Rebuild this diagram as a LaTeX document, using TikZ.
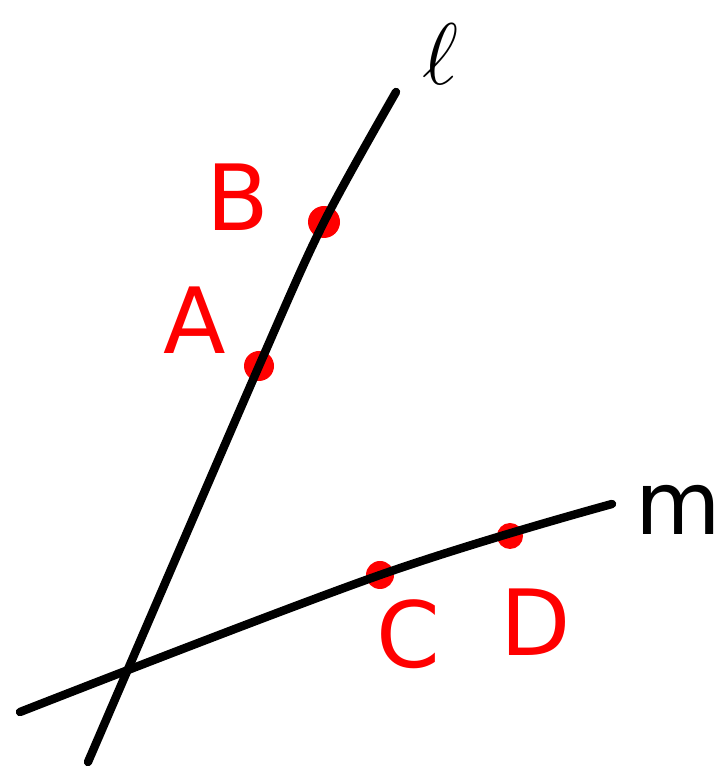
\documentclass[tikz,border=0pt]{standalone}
\usepackage{fontspec}
\setmainfont{DejaVu Sans}
\usetikzlibrary{positioning}
\definecolor{penred}{HTML}{FF0000}

\begin{document}
\begin{tikzpicture}[x=1cm,y=1cm,
  stroke/.style={line width=2.4pt, draw=black, line cap=round, line join=round},
  pt/.style={circle, fill=penred, inner sep=0pt},
  ptlabel/.style={text=penred, font=\fontsize{26}{28}\selectfont},
  linelabel/.style={text=black, font=\fontsize{25}{27}\selectfont}]

  \useasboundingbox (0,0) rectangle (7.25,7.66);

  % line l
  \coordinate (lbot) at (0.88,0.04);
  \coordinate (ltop) at (3.96,6.74);
  % line m
  \coordinate (mleft) at (0.20,0.54);
  \coordinate (mright) at (6.12,2.62);

  \node[pt, minimum size=3.2mm] (B) at (3.24,5.44) {};
  \node[pt, minimum size=3.0mm] (A) at (2.59,4.00) {};
  \node[pt, minimum size=2.8mm] (C) at (3.80,1.91) {};
  \node[pt, minimum size=2.6mm] (D) at (5.10,2.30) {};

  \draw[stroke] plot[smooth, tension=0.5] coordinates {(lbot) (A.center) (B.center) (ltop)};
  \draw[stroke] plot[smooth, tension=0.6] coordinates {(mleft) (C.center) (mright)};

  \node[ptlabel] (Blab) at (2.38,5.69) {B};
  \node[ptlabel] (Alab) at (1.95,4.46) {A};
  \node[ptlabel] (Clab) at (4.08,1.32) {C};
  \node[ptlabel] (Dlab) at (5.36,1.44) {D};

  \node[linelabel, font=\fontsize{46}{48}\selectfont] (llab) at (4.40,7.12) {$\ell$};
  \node[linelabel] (mlab) at (6.78,2.56) {m};
\end{tikzpicture}
\end{document}
